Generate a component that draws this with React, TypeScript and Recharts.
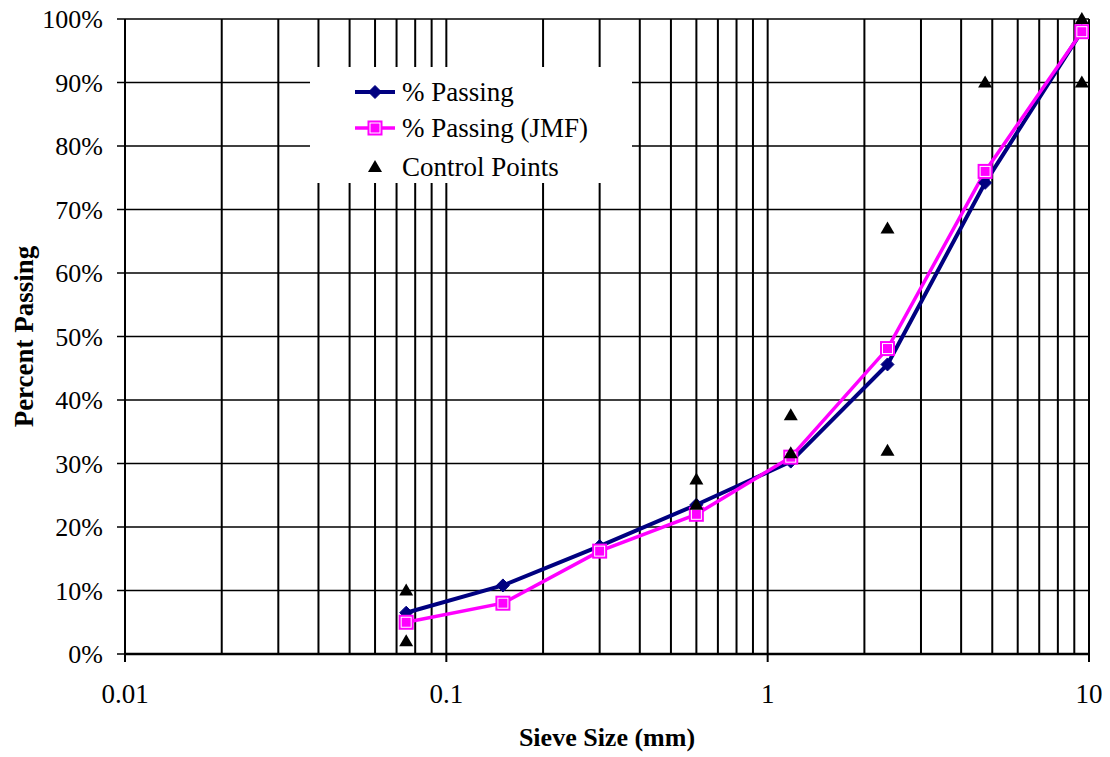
import React from 'react';
import { ComposedChart, Line, Scatter, XAxis, YAxis, CartesianGrid, Label } from 'recharts';

// Sieve sizes (mm) of the gradation
const sieveSizes = [0.075, 0.15, 0.3, 0.6, 1.18, 2.36, 4.75, 9.5, 12.5];
// Measured gradation, % passing
const passing = [6.5, 10.8, 17.0, 23.5, 30.3, 45.6, 74.2, 98.1, 100];
// Job mix formula gradation, % passing
const passingJmf = [5.0, 8.0, 16.2, 22.0, 31.0, 48.1, 76.0, 98.0, 100];
// Superpave control points and restricted-zone limits
const controlSizes = [0.075, 0.075, 0.6, 0.6, 1.18, 1.18, 2.36, 2.36, 4.75, 9.5, 9.5];
const controlValues = [2, 10, 23.5, 27.5, 31.6, 37.6, 32, 67, 90, 90, 100];

// Log grid: every 1..9 multiple in each decade, labels only on decades
const xTicks = [
  0.01, 0.02, 0.03, 0.04, 0.05, 0.06, 0.07, 0.08, 0.09,
  0.1, 0.2, 0.3, 0.4, 0.5, 0.6, 0.7, 0.8, 0.9,
  1, 2, 3, 4, 5, 6, 7, 8, 9,
  10,
];
const xLabels = ['0.01', '0.1', '1', '10'];
const yTicks = [0, 10, 20, 30, 40, 50, 60, 70, 80, 90, 100];

const passingData = sieveSizes.map((size, i) => ({ size, value: passing[i] }));
const jmfData = sieveSizes.map((size, i) => ({ size, value: passingJmf[i] }));
const controlData = controlSizes.map((size, i) => ({ size, value: controlValues[i] }));

const FONT = "'Liberation Serif', 'Times New Roman', Times, serif";
const NAVY = '#000080';
const MAGENTA = '#FF00FF';

const XTick = (props: any) => {
  const { x, y, payload } = props;
  const label = xLabels.find((l) => Math.abs(Number(l) - payload.value) < 1e-9);
  if (!label) return null;
  return (
    <g>
      <line x1={x} x2={x} y1={y} y2={y + 8} stroke="#000" strokeWidth={2} />
      <text x={x} y={y + 40} dy="0.35em" textAnchor="middle" fontFamily={FONT} fontSize={27} fill="#000">
        {label}
      </text>
    </g>
  );
};

const Diamond = (props: any) => {
  const { cx, cy } = props;
  if (cx == null || cy == null) return <g />;
  const r = 6.5;
  return (
    <polygon
      points={`${cx},${cy - r} ${cx + r},${cy} ${cx},${cy + r} ${cx - r},${cy}`}
      fill={NAVY}
      stroke={NAVY}
      strokeWidth={1}
    />
  );
};

const Square = (props: any) => {
  const { cx, cy } = props;
  if (cx == null || cy == null) return <g />;
  const h = 7.5;
  return (
    <g>
      <rect x={cx - h} y={cy - h} width={2 * h} height={2 * h} fill={MAGENTA} />
      <rect x={cx - h + 2.5} y={cy - h + 2.5} width={2 * h - 5} height={2 * h - 5} fill="none" stroke="#fff" strokeWidth={1} />
    </g>
  );
};

const Triangle = (props: any) => {
  const { cx, cy } = props;
  if (cx == null || cy == null) return <g />;
  return <polygon points={`${cx},${cy - 7} ${cx + 7},${cy + 5} ${cx - 7},${cy + 5}`} fill="#000" />;
};

const XTitle = (props: any) => {
  const { viewBox } = props;
  const cx = viewBox.x + viewBox.width / 2;
  return (
    <text x={cx} y={viewBox.y + 83} dy="0.35em" textAnchor="middle" fontFamily={FONT} fontWeight="bold" fontSize={26} fill="#000">
      Sieve Size (mm)
    </text>
  );
};

const YTitle = (props: any) => {
  const { viewBox } = props;
  const cy = viewBox.y + viewBox.height / 2;
  const cx = 24;
  return (
    <text
      x={cx}
      y={cy}
      dy="0.35em"
      textAnchor="middle"
      transform={`rotate(-90, ${cx}, ${cy})`}
      fontFamily={FONT}
      fontWeight="bold"
      fontSize={27}
      fill="#000"
    >
      Percent Passing
    </text>
  );
};

const LegendBox = () => (
  <div style={{ position: 'absolute', left: 310, top: 67, width: 322, height: 116, background: '#fff' }}>
    <svg width={322} height={116}>
      <line x1={45} x2={85} y1={25} y2={25} stroke={NAVY} strokeWidth={4} />
      <Diamond cx={65} cy={25} />
      <text x={92} y={25} dy="0.35em" fontFamily={FONT} fontSize={27} fill="#000">% Passing</text>
      <line x1={45} x2={85} y1={61} y2={61} stroke={MAGENTA} strokeWidth={3.5} />
      <Square cx={65} cy={61} />
      <text x={92} y={61} dy="0.35em" fontFamily={FONT} fontSize={27} fill="#000">% Passing (JMF)</text>
      <Triangle cx={65} cy={100} />
      <text x={92} y={100} dy="0.35em" fontFamily={FONT} fontSize={27} fill="#000">Control Points</text>
    </svg>
  </div>
);

export default function App() {
  return (
    <div style={{ position: 'relative', width: 1110, height: 757, margin: '-8px 0 0 -8px', background: '#fff' }}>
      <ComposedChart width={1110} height={757} margin={{ top: 19, right: 21, bottom: 13, left: 8 }}>
        <CartesianGrid horizontal={false} stroke="#000" strokeWidth={2} />
        <CartesianGrid vertical={false} stroke="#000" strokeWidth={1.3} />
        <XAxis
          dataKey="size"
          type="number"
          scale="log"
          domain={[0.01, 10]}
          allowDataOverflow
          ticks={xTicks}
          interval={0}
          tick={<XTick />}
          tickLine={false}
          tickSize={0}
          tickMargin={0}
          axisLine={{ stroke: '#000', strokeWidth: 2.5 }}
          height={90}
        >
          <Label content={<XTitle />} />
        </XAxis>
        <YAxis
          type="number"
          domain={[0, 100]}
          ticks={yTicks}
          interval={0}
          width={117}
          tickFormatter={(v: number) => `${v}%`}
          tick={{ fill: '#000', fontSize: 26, fontFamily: FONT }}
          tickSize={8}
          tickMargin={14}
          tickLine={{ stroke: '#000', strokeWidth: 1.5 }}
          axisLine={{ stroke: '#000', strokeWidth: 2 }}
        >
          <Label content={<YTitle />} />
        </YAxis>
        <Line
          data={passingData}
          dataKey="value"
          stroke={NAVY}
          strokeWidth={4}
          dot={<Diamond />}
          activeDot={false}
          isAnimationActive={false}
        />
        <Line
          data={jmfData}
          dataKey="value"
          stroke={MAGENTA}
          strokeWidth={3.5}
          dot={<Square />}
          activeDot={false}
          isAnimationActive={false}
        />
        <Scatter data={controlData} dataKey="value" shape={<Triangle />} isAnimationActive={false} />
      </ComposedChart>
      <LegendBox />
    </div>
  );
}
